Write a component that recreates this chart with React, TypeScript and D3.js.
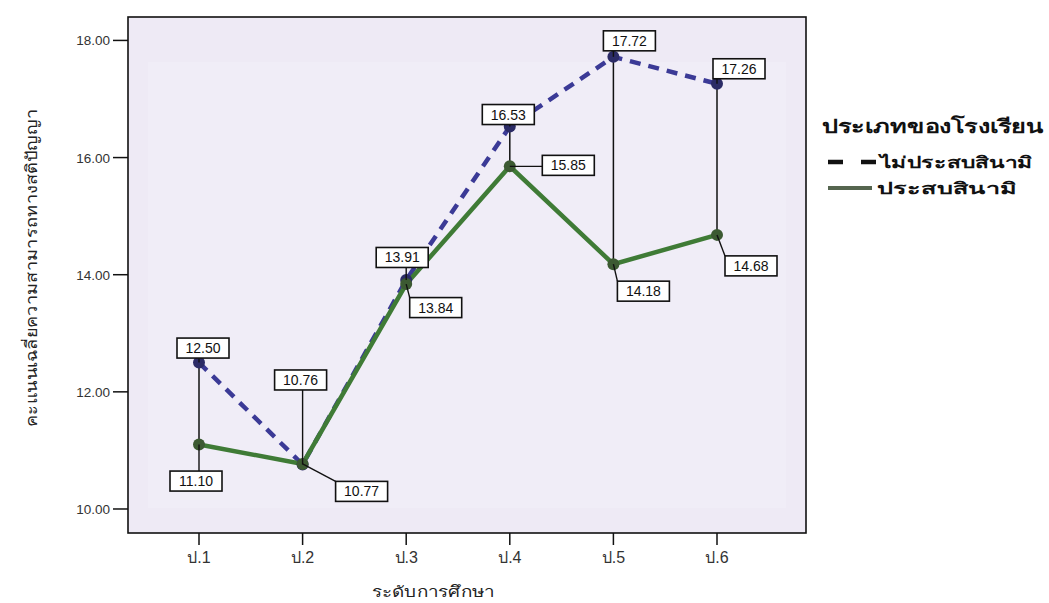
import React from "react";
import * as d3 from "d3";

const categories = ["ป.1", "ป.2", "ป.3", "ป.4", "ป.5", "ป.6"];
const notAffected = [12.5, 10.76, 13.91, 16.53, 17.72, 17.26];
const affected = [11.1, 10.77, 13.84, 15.85, 14.18, 14.68];
const yTicks = [10, 12, 14, 16, 18];
const seriesNames = ["ไม่ประสบสินามิ", "ประสบสินามิ"];
const legendTitle = "ประเภทของโรงเรียน";
const xTitle = "ระดับการศึกษา";
const yTitle = "คะแนนเฉลี่ยความสามารถทางสติปัญญา";

// label box offsets (box centre relative to point), layout only
const offsetsA: [number, number][] = [[4, -14.5], [-2, -84.5], [-4, -22.5], [-1.5, -12], [16, -16], [22, -15]];
const offsetsB: [number, number][] = [[-3, 36.5], [59, 27.5], [29.5, 23.5], [58.5, -1], [30, 27], [34, 31]];

const W = 1049, H = 603;
const plot = { left: 128, top: 17, right: 806, bottom: 533 };
const FONT = "Arial, 'Liberation Sans', 'Noto Sans', sans-serif";

export default function App() {
  const x = d3.scalePoint<string>().domain(categories).range([plot.left + 71, plot.right - 89]);
  const y = d3.scaleLinear().domain([9.59, 18.4]).range([plot.bottom, plot.top]);
  const line = d3.line<number>().x((_, i) => x(categories[i])!).y((d) => y(d));

  const boxW = 52, boxH = 20;
  const renderLabels = (vals: number[], offs: [number, number][], key: string) =>
    vals.map((v, i) => {
      const px = x(categories[i])!, py = y(v);
      const cx = px + offs[i][0], cy = py + offs[i][1];
      const bx0 = cx - boxW / 2, by0 = cy - boxH / 2;
      const lx = Math.max(bx0, Math.min(bx0 + boxW, px));
      const ly = Math.max(by0, Math.min(by0 + boxH, py));
      return (
        <g key={key + i}>
          <line x1={px} y1={py} x2={lx} y2={ly} stroke="#111" strokeWidth={1.4} />
          <rect x={bx0} y={by0} width={boxW} height={boxH} fill="#fff" stroke="#111" strokeWidth={1.6} />
          <text x={cx} y={cy + 5} textAnchor="middle" fontSize={14} fontFamily={FONT} fill="#111">
            {v.toFixed(2)}
          </text>
        </g>
      );
    });

  return (
    <svg width={W} height={H} style={{ position: "absolute", left: 0, top: 0, background: "#fff" }}>
      <rect x={plot.left} y={plot.top} width={plot.right - plot.left} height={plot.bottom - plot.top} fill="#eeeaf5" />
      <rect x={plot.left + 20} y={plot.top + 45} width={plot.right - plot.left - 40} height={plot.bottom - plot.top - 70} fill="#f2eff8" opacity={0.6} />
      {/* drop lines */}
      {categories.map((c, i) => (
        <line key={"d" + i} x1={x(c)} x2={x(c)} y1={y(notAffected[i])} y2={y(affected[i])} stroke="#111" strokeWidth={1.5} />
      ))}
      <path d={line(notAffected)!} fill="none" stroke="#3b3a96" strokeWidth={4.5} strokeDasharray="11,8" />
      <path d={line(affected)!} fill="none" stroke="#3f7b36" strokeWidth={4.5} />
      {notAffected.map((v, i) => (
        <circle key={"a" + i} cx={x(categories[i])} cy={y(v)} r={6} fill="#2b2b66" />
      ))}
      {affected.map((v, i) => (
        <circle key={"b" + i} cx={x(categories[i])} cy={y(v)} r={6} fill="#3c5a32" />
      ))}
      {renderLabels(notAffected, offsetsA, "la")}
      {renderLabels(affected, offsetsB, "lb")}
      <rect x={plot.left} y={plot.top} width={plot.right - plot.left} height={plot.bottom - plot.top} fill="none" stroke="#111" strokeWidth={1.6} />
      {/* y axis */}
      {yTicks.map((t) => (
        <g key={"yt" + t}>
          <line x1={plot.left - 15} x2={plot.left} y1={y(t)} y2={y(t)} stroke="#111" strokeWidth={1.5} />
          <text x={plot.left - 18} y={y(t) + 5} textAnchor="end" fontSize={13.5} fontFamily={FONT} fill="#333">
            {t.toFixed(2)}
          </text>
        </g>
      ))}
      {/* x axis */}
      {categories.map((c) => (
        <g key={"xt" + c}>
          <line x1={x(c)} x2={x(c)} y1={plot.bottom} y2={plot.bottom + 12} stroke="#111" strokeWidth={1.5} />
          <text x={x(c)} y={plot.bottom + 30} textAnchor="middle" fontSize={16} fontFamily={FONT} fill="#333">
            {c}
          </text>
        </g>
      ))}
      <text x={433} y={597} textAnchor="middle" fontSize={15} fontFamily={FONT} fill="#222" textLength={123} lengthAdjust="spacingAndGlyphs">{xTitle}</text>
      <text transform={`translate(37,268) rotate(-90)`} textAnchor="middle" fontSize={16} fontFamily={FONT} fill="#222" textLength={318} lengthAdjust="spacingAndGlyphs">
        {yTitle}
      </text>
      {/* legend */}
      <text x={822} y={133} fontSize={19} fontWeight="bold" fontFamily={FONT} fill="#111" textLength={221} lengthAdjust="spacingAndGlyphs">{legendTitle}</text>
      <line x1={828} x2={876} y1={162} y2={162} stroke="#111" strokeWidth={4.5} strokeDasharray="15,18" />
      <text x={880} y={168} fontSize={16} fontWeight="bold" fontFamily={FONT} fill="#111" textLength={153} lengthAdjust="spacingAndGlyphs">{seriesNames[0]}</text>
      <line x1={828} x2={872} y1={188} y2={188} stroke="#55654f" strokeWidth={4} />
      <text x={877} y={194} fontSize={16} fontWeight="bold" fontFamily={FONT} fill="#111" textLength={140} lengthAdjust="spacingAndGlyphs">{seriesNames[1]}</text>
    </svg>
  );
}
